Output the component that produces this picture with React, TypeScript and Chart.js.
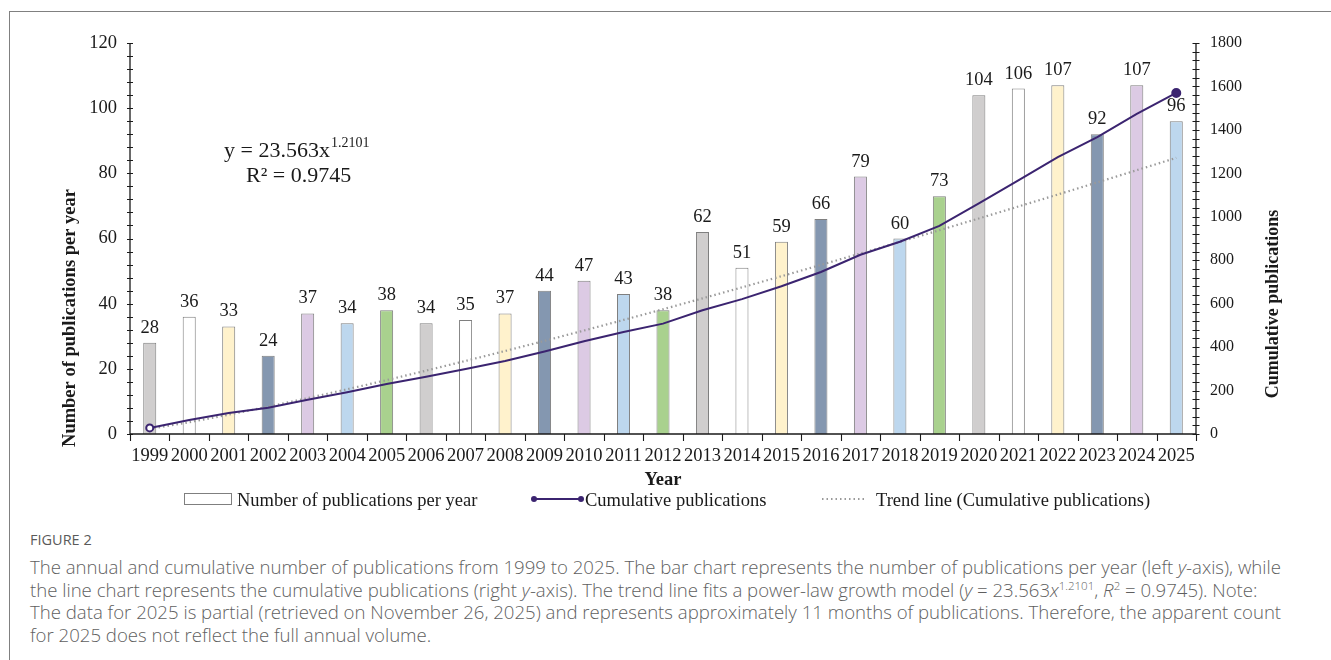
import { useEffect, useRef } from "react";
import { Chart, registerables } from "chart.js";

Chart.register(...registerables);

// Publication years
const years = [
  "1999", "2000", "2001", "2002", "2003", "2004", "2005", "2006", "2007",
  "2008", "2009", "2010", "2011", "2012", "2013", "2014", "2015", "2016",
  "2017", "2018", "2019", "2020", "2021", "2022", "2023", "2024", "2025",
];

// Number of publications per year (left axis)
const publications = [
  28, 36, 33, 24, 37, 34, 38, 34, 35, 37, 44, 47, 43, 38, 62, 51, 59, 66,
  79, 60, 73, 104, 106, 107, 92, 107, 96,
];

// Cumulative publications (right axis)
const cumulative = [
  28, 64, 97, 121, 158, 192, 230, 264, 299, 336, 380, 427, 470, 508, 570,
  621, 680, 746, 825, 885, 958, 1062, 1168, 1275, 1367, 1474, 1570,
];

// Power-law trend of the cumulative count, y = 23.563x^1.2101
const trend = [
  23.6, 54.5, 89.0, 126.1, 165.2, 206.0, 248.2, 291.8, 336.5, 382.2, 429.0,
  476.6, 525.1, 574.4, 624.4, 675.1, 726.5, 778.5, 831.1, 884.3, 938.1,
  992.3, 1047.2, 1102.5, 1158.4, 1214.5, 1271.2,
];

const leftTicks = [0, 20, 40, 60, 80, 100, 120];
const rightTicks = [0, 200, 400, 600, 800, 1000, 1200, 1400, 1600, 1800];

// Repeating bar colours
const barPalette = [
  "#d0cece", "#ffffff", "#fff2cc", "#8497b0", "#dccae4", "#bdd7ee", "#a9d18e",
];

const SERIF = "'Liberation Serif', 'Times New Roman', serif";
const INK = "#1a1a1a";
const PURPLE = "#3b2470";
const TREND_GREY = "#9a9a9a";
const FS = 18.5;

const decorations = {
  id: "decorations",
  afterDatasetsDraw(chart: any) {
    const ctx = chart.ctx;
    const meta = chart.getDatasetMeta(0);
    ctx.save();
    ctx.font = `${FS}px ${SERIF}`;
    ctx.fillStyle = INK;
    ctx.textAlign = "center";
    ctx.textBaseline = "alphabetic";
    meta.data.forEach((bar: any, i: number) => {
      ctx.fillText(String(publications[i]), bar.x, bar.y - 10);
    });
    ctx.restore();
  },
  afterDraw(chart: any) {
    const ctx = chart.ctx;
    const { left, right, top, bottom } = chart.chartArea;
    const x = chart.scales.x;
    const y = chart.scales.y;
    const y1 = chart.scales.y1;

    ctx.save();
    ctx.strokeStyle = INK;
    ctx.lineWidth = 1.3;

    // axis lines
    ctx.beginPath();
    ctx.moveTo(left, top);
    ctx.lineTo(left, bottom);
    ctx.lineTo(right, bottom);
    ctx.moveTo(right, top);
    ctx.lineTo(right, bottom);
    ctx.stroke();

    // left axis ticks (minor every 4)
    ctx.lineWidth = 1.1;
    ctx.beginPath();
    for (let v = 0; v <= 120; v += 4) {
      const py = Math.round(y.getPixelForValue(v)) + 0.5;
      ctx.moveTo(left - 3, py);
      ctx.lineTo(left + 3, py);
    }
    // right axis ticks (minor every 40)
    for (let v = 0; v <= 1800; v += 40) {
      const py = Math.round(y1.getPixelForValue(v)) + 0.5;
      ctx.moveTo(right - 3.5, py);
      ctx.lineTo(right + 3.5, py);
    }
    // category boundary ticks
    for (let i = 0; i <= years.length; i++) {
      const px = Math.round(x.getPixelForValue(i - 0.5)) + 0.5;
      ctx.moveTo(px, bottom);
      ctx.lineTo(px, bottom + 7);
    }
    ctx.stroke();

    // axis titles
    ctx.fillStyle = INK;
    ctx.font = `bold ${FS}px ${SERIF}`;
    ctx.textAlign = "center";
    ctx.textBaseline = "alphabetic";
    ctx.fillText("Year", (left + right) / 2, 485);

    ctx.save();
    ctx.translate(75, 318);
    ctx.rotate(-Math.PI / 2);
    ctx.fillText("Number of publications per year", 0, 0);
    ctx.restore();

    ctx.save();
    ctx.font = `bold 18px ${SERIF}`;
    ctx.translate(1278, 304);
    ctx.rotate(-Math.PI / 2);
    ctx.fillText("Cumulative publications", 0, 0);
    ctx.restore();

    // fitted equation
    ctx.textAlign = "left";
    ctx.font = `22px ${SERIF}`;
    const eq = "y = 23.563x";
    ctx.fillText(eq, 224, 157);
    const eqW = ctx.measureText(eq).width;
    ctx.font = `14px ${SERIF}`;
    ctx.fillText("1.2101", 224 + eqW + 1, 147);
    ctx.font = `22px ${SERIF}`;
    ctx.fillText("R\u00b2 = 0.9745", 246, 182);

    // legend
    const ly = 499;
    ctx.font = `${FS}px ${SERIF}`;
    ctx.lineWidth = 1;
    ctx.strokeStyle = "#7f7f7f";
    ctx.fillStyle = "#ffffff";
    ctx.fillRect(184.5, 493.5, 47, 11);
    ctx.strokeRect(184.5, 493.5, 47, 11);
    ctx.fillStyle = INK;
    ctx.fillText("Number of publications per year", 237, 506);

    ctx.strokeStyle = PURPLE;
    ctx.lineWidth = 2;
    ctx.beginPath();
    ctx.moveTo(534, ly);
    ctx.lineTo(581, ly);
    ctx.stroke();
    ctx.fillStyle = PURPLE;
    [534, 581].forEach((px) => {
      ctx.beginPath();
      ctx.arc(px, ly, 3, 0, Math.PI * 2);
      ctx.fill();
    });
    ctx.fillStyle = INK;
    ctx.fillText("Cumulative publications", 585, 506);

    ctx.strokeStyle = TREND_GREY;
    ctx.lineWidth = 2;
    ctx.setLineDash([1.5, 3]);
    ctx.beginPath();
    ctx.moveTo(822, ly);
    ctx.lineTo(866, ly);
    ctx.stroke();
    ctx.setLineDash([]);
    ctx.fillText("Trend line (Cumulative publications)", 876, 506);

    ctx.restore();
  },
};

function PublicationsChart() {
  const canvasRef = useRef<HTMLCanvasElement | null>(null);

  useEffect(() => {
    if (!canvasRef.current) return;
    const last = cumulative.length - 1;
    const chart = new Chart(canvasRef.current, {
      type: "bar",
      data: {
        labels: years,
        datasets: [
          {
            type: "bar",
            label: "Number of publications per year",
            data: publications,
            yAxisID: "y",
            backgroundColor: years.map((_, i) => barPalette[i % barPalette.length]),
            borderColor: "#7f7f7f",
            borderWidth: 1,
            barPercentage: 0.33,
            categoryPercentage: 1,
            order: 3,
          },
          {
            type: "line",
            label: "Trend line (Cumulative publications)",
            data: trend,
            yAxisID: "y1",
            borderColor: TREND_GREY,
            borderWidth: 2.2,
            borderDash: [1.5, 3],
            borderCapStyle: "butt",
            pointRadius: 0,
            tension: 0.3,
            order: 2,
          },
          {
            type: "line",
            label: "Cumulative publications",
            data: cumulative,
            yAxisID: "y1",
            borderColor: PURPLE,
            borderWidth: 2,
            pointRadius: cumulative.map((_, i) => (i === 0 ? 3.5 : i === last ? 4 : 0)),
            pointBackgroundColor: cumulative.map((_, i) => (i === 0 ? "#ffffff" : PURPLE)),
            pointBorderColor: PURPLE,
            pointBorderWidth: 2,
            tension: 0,
            order: 1,
          },
        ],
      },
      options: {
        responsive: false,
        animation: false,
        devicePixelRatio: 1,
        layout: { padding: { top: 43, left: 0, right: 0, bottom: 0 } },
        plugins: { legend: { display: false }, tooltip: { enabled: false } },
        scales: {
          x: {
            grid: { display: false, drawTicks: false },
            border: { display: false },
            ticks: {
              font: { family: SERIF, size: FS },
              color: INK,
              padding: 11,
              maxRotation: 0,
              autoSkip: false,
            },
            afterFit: (s: any) => {
              s.height = 86;
            },
          },
          y: {
            position: "left",
            min: 0,
            max: 120,
            afterBuildTicks: (s: any) => {
              s.ticks = leftTicks.map((v) => ({ value: v }));
            },
            grid: { display: false, drawTicks: false },
            border: { display: false },
            ticks: {
              font: { family: SERIF, size: FS },
              color: INK,
              padding: 13,
              callback: (v: any) => String(v),
            },
            afterFit: (s: any) => {
              s.width = 130;
            },
          },
          y1: {
            position: "right",
            min: 0,
            max: 1800,
            afterBuildTicks: (s: any) => {
              s.ticks = rightTicks.map((v) => ({ value: v }));
            },
            grid: { display: false, drawTicks: false },
            border: { display: false },
            ticks: {
              font: { family: SERIF, size: 16 },
              color: INK,
              padding: 14,
              callback: (v: any) => String(v),
            },
            afterFit: (s: any) => {
              s.width = 135;
            },
          },
        },
      },
      plugins: [decorations],
    } as any);
    return () => chart.destroy();
  }, []);

  return (
    <canvas
      ref={canvasRef}
      width={1331}
      height={520}
      style={{ position: "absolute", left: 0, top: 0, width: 1331, height: 520 }}
    />
  );
}

const sup = { fontSize: "0.62em", lineHeight: 0 };

const captionLines = [
  <>The annual and cumulative number of publications from 1999 to 2025. The bar chart represents the number of publications per year (left <i>y</i>-axis), while</>,
  <>the line chart represents the cumulative publications (right <i>y</i>-axis). The trend line fits a power-law growth model (<i>y</i> = 23.563<i>x</i><sup style={sup}>1.2101</sup>, <i>R</i><sup style={sup}>2</sup> = 0.9745). Note:</>,
  <>The data for 2025 is partial (retrieved on November 26, 2025) and represents approximately 11 months of publications. Therefore, the apparent count</>,
  <>for 2025 does not reflect the full annual volume.</>,
];

export default function App() {
  return (
    <div
      style={{
        position: "fixed",
        left: 0,
        top: 0,
        width: 1331,
        height: 660,
        background: "#ffffff",
        overflow: "hidden",
      }}
    >
      <div
        style={{
          position: "absolute",
          left: 9,
          top: 11,
          right: 0,
          bottom: 0,
          borderTop: "1px solid #808080",
          borderLeft: "1px solid #808080",
        }}
      />
      <PublicationsChart />
      <div
        style={{
          position: "absolute",
          left: 30,
          top: 530,
          fontFamily: "'Open Sans', sans-serif",
          fontSize: 14.5,
          lineHeight: "20px",
          color: "#5a5a5a",
          fontWeight: 500,
        }}
      >
        FIGURE 2
      </div>
      <div
        style={{
          position: "absolute",
          left: 30,
          top: 556,
          fontFamily: "'Open Sans', sans-serif",
          fontSize: 18.6,
          lineHeight: "22.5px",
          color: "#5f5f5f",
          fontWeight: 300,
          whiteSpace: "nowrap",
        }}
      >
        {captionLines.map((line, i) => (
          <div key={i}>{line}</div>
        ))}
      </div>
    </div>
  );
}
